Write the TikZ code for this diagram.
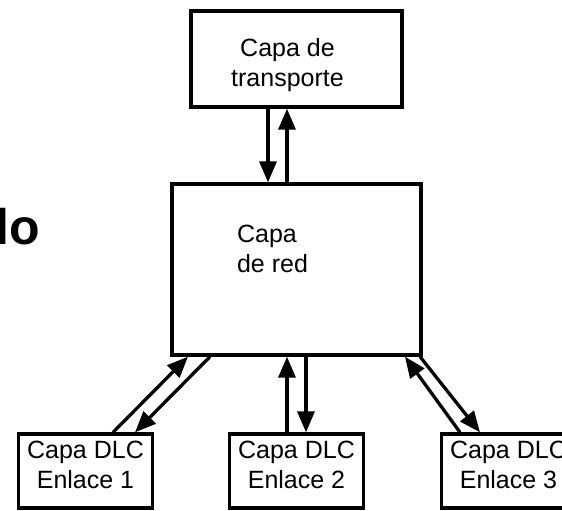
\documentclass[tikz,border=0pt]{standalone}
\usepackage{fontspec}
\setmainfont{Liberation Sans}
\usetikzlibrary{arrows.meta,positioning}

\begin{document}
\begin{tikzpicture}[x=1pt,y=-1pt,on grid,line width=3.3pt,
    >={Triangle[length=21pt,width=17pt]},
    font=\fontsize{25}{30}\selectfont,
    capa/.style={draw,rectangle,inner sep=0pt},
    enlace/.style={capa,minimum width=134pt,minimum height=74pt}]
   \useasboundingbox (0,0) rectangle (562,511);
   \clip (0,0) rectangle (562,511);
   \node[anchor=base west,inner sep=0pt,font=\fontsize{50}{50}\selectfont\bfseries] (lo) at (-6,244) {lo};
   \node[capa,minimum width=249pt,minimum height=171pt,
     label={[align=left,xshift=-24pt,yshift=20.6pt]center:Capa\\de red}] (red) at (296.5,269.5) {};
   \node[capa,minimum width=211pt,minimum height=96pt,
     label={[align=center,xshift=-9pt,yshift=-5.6pt]center:Capa de\\transporte}] (trans) [above=210.5pt of red] {};
   \node[enlace,label={[align=center,yshift=6pt]center:Capa DLC\\Enlace 2}] (enl_2) [below=201.5pt of red] {};
   \node[enlace,label={[align=center,yshift=6pt]center:Capa DLC\\Enlace 1}] (enl_1) [left=211pt of enl_2] {};
   \node[enlace,label={[align=center,yshift=6pt]center:Capa DLC\\Enlace 3}] (enl_3) [right=212pt of enl_2] {};
    \path[->]
    ([xshift=-28.5pt]trans.south) edge ([xshift=-28.5pt]red.north)
    ([xshift=-9.5pt]red.north)    edge ([xshift=-9.5pt]trans.south)
    ([xshift=27.5pt]enl_1.north)  edge ([xshift=-108.5pt]red.south)
    ([xshift=-86.5pt]red.south)   edge ([xshift=49.5pt]enl_1.north)
    ([xshift=-9.5pt]enl_2.north)  edge ([xshift=-9.5pt]red.south)
    ([xshift=9.5pt]red.south)     edge ([xshift=9.5pt]enl_2.north)
    ([xshift=-48.5pt]enl_3.north) edge ([xshift=108.5pt]red.south)
    ([xshift=123.5pt]red.south)   edge ([xshift=-28.5pt]enl_3.north);
\end{tikzpicture}
\end{document}
